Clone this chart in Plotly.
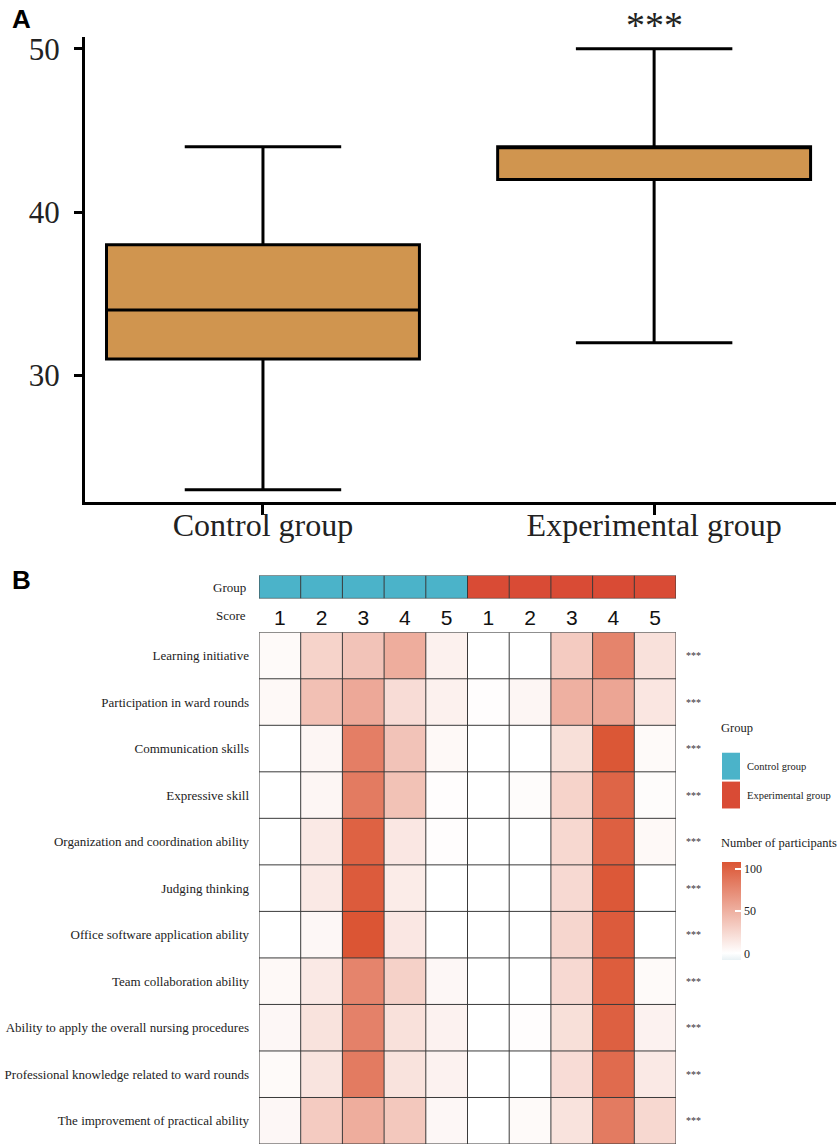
import plotly.graph_objects as go

# ---------------- Panel A data ----------------
groups = ["Control group", "Experimental group"]
box_low = [23, 32]
box_q1 = [31, 42]
box_median = [34, 44]
box_q3 = [38, 44]
box_high = [44, 50]
y_ticks = [30, 40, 50]
signif_A = "***"

# ---------------- Panel B data ----------------
items = [
    "Learning initiative",
    "Participation in ward rounds",
    "Communication skills",
    "Expressive skill",
    "Organization and coordination ability",
    "Judging thinking",
    "Office software application ability",
    "Team collaboration ability",
    "Ability to apply the overall nursing procedures",
    "Professional knowledge related to ward rounds",
    "The improvement of practical ability",
]
scores = ["1", "2", "3", "4", "5", "1", "2", "3", "4", "5"]
col_group = ["Control group"] * 5 + ["Experimental group"] * 5
control_counts = [
    [3, 28, 38, 52, 9],
    [4, 40, 55, 22, 9],
    [0, 6, 82, 38, 4],
    [0, 6, 84, 39, 1],
    [0, 14, 100, 15, 1],
    [0, 14, 104, 12, 0],
    [0, 5, 110, 15, 0],
    [4, 14, 78, 29, 5],
    [5, 18, 80, 19, 8],
    [3, 17, 84, 18, 8],
    [5, 33, 52, 35, 5],
]
experimental_counts = [
    [0, 0, 33, 78, 19],
    [1, 6, 50, 57, 16],
    [0, 0, 20, 107, 3],
    [0, 2, 28, 98, 2],
    [0, 0, 25, 101, 4],
    [0, 0, 24, 106, 0],
    [0, 0, 26, 104, 0],
    [0, 0, 24, 103, 3],
    [0, 1, 20, 101, 8],
    [0, 0, 22, 94, 14],
    [0, 3, 18, 84, 25],
]
row_signif = ["***"] * len(items)
cbar_ticks = [0, 50, 100]

# ---------------- styling ----------------
W, H = 839, 1147
BOX_FILL = "#D0954F"
BLUE = "#4BB3C9"
RED = "#D94B35"
SERIF = "Liberation Serif, Times New Roman, serif"
SANS = "Liberation Sans, Arial, sans-serif"
NARROW = "Liberation Sans Narrow, Liberation Sans, Arial, sans-serif"


def px_x(p):
    return p / W


def px_y(p):
    return 1 - p / H


fig = go.Figure()

# ---- Panel A: box plot from summary statistics ----
for i, g in enumerate(groups):
    fig.add_trace(go.Box(
        x=[i], q1=[box_q1[i]], median=[box_median[i]], q3=[box_q3[i]],
        lowerfence=[box_low[i]], upperfence=[box_high[i]],
        fillcolor=BOX_FILL, line=dict(color="black", width=3),
        width=0.8, whiskerwidth=0.5, boxpoints=False, showlegend=False,
        hoverinfo="skip", xaxis="x", yaxis="y", name=g,
    ))

# ---- Panel B: heatmap ----
z = [c + e for c, e in zip(control_counts, experimental_counts)]
zmin, zmax = -8, 108
fig.add_trace(go.Heatmap(
    z=z, x=list(range(len(scores))), y=list(range(len(items))),
    zmin=zmin, zmax=zmax,
    colorscale=[[0, "#e8f1f4"], [(0 - zmin) / (zmax - zmin), "#ffffff"], [1, "#db5534"]],
    xaxis="x2", yaxis="y2", hoverinfo="skip",
    colorbar=dict(
        x=px_x(722), xanchor="left", xpad=0, ypad=0,
        y=px_y(861), yanchor="top", lenmode="pixels", len=98,
        thickness=19, thicknessmode="pixels", outlinewidth=0,
        tickvals=cbar_ticks, ticks="inside", ticklen=6, tickwidth=2,
        tickcolor="white", tickfont=dict(family=SERIF, size=12, color="#222"),
    ),
))

# group annotation bar
group_names = list(dict.fromkeys(col_group))
fig.add_trace(go.Heatmap(
    z=[[group_names.index(g) for g in col_group]],
    x=list(range(len(scores))), y=[0],
    zmin=0, zmax=1,
    colorscale=[[0, BLUE], [0.5, BLUE], [0.5, RED], [1, RED]],
    showscale=False, xaxis="x3", yaxis="y3", hoverinfo="skip",
))

# grid lines on heatmap & group bar
nC, nR = len(scores), len(items)
for i in range(nC + 1):
    fig.add_shape(type="line", xref="x2", yref="y2", x0=i - 0.5, x1=i - 0.5,
                  y0=-0.5, y1=nR - 0.5, line=dict(color="#3a3a3a", width=1))
    fig.add_shape(type="line", xref="x3", yref="y3", x0=i - 0.5, x1=i - 0.5,
                  y0=-0.5, y1=0.5, line=dict(color="#3a3a3a", width=1))
for j in range(nR + 1):
    fig.add_shape(type="line", xref="x2", yref="y2", x0=-0.5, x1=nC - 0.5,
                  y0=j - 0.5, y1=j - 0.5, line=dict(color="#3a3a3a", width=1))
for j in range(2):
    fig.add_shape(type="line", xref="x3", yref="y3", x0=-0.5, x1=nC - 0.5,
                  y0=j - 0.5, y1=j - 0.5, line=dict(color="#3a3a3a", width=1))

# row significance stars
for j, s in enumerate(row_signif):
    fig.add_annotation(text=s, xref="paper", yref="y2", x=px_x(684), y=j,
                       xanchor="left", yanchor="middle", showarrow=False,
                       font=dict(family=SERIF, size=10, color="#333"))

# labels "Group" / "Score"
fig.add_annotation(text="Group", xref="paper", yref="paper", x=px_x(248), y=px_y(585),
                   xanchor="right", yanchor="middle", showarrow=False,
                   font=dict(family=SERIF, size=13, color="#222"))
fig.add_annotation(text="Score", xref="paper", yref="paper", x=px_x(248), y=px_y(613),
                   xanchor="right", yanchor="middle", showarrow=False,
                   font=dict(family=SERIF, size=13, color="#222"))

# legend (group)
fig.add_annotation(text="Group", xref="paper", yref="paper", x=px_x(719), y=px_y(726),
                   xanchor="left", yanchor="middle", showarrow=False,
                   font=dict(family=SERIF, size=12.5, color="#222"))
legend_rows = [(group_names[0], BLUE, 751, 778), (group_names[1], RED, 780, 807)]
for name, col, t, b in legend_rows:
    fig.add_shape(type="rect", xref="paper", yref="paper", x0=px_x(722), x1=px_x(740),
                  y0=px_y(b), y1=px_y(t), fillcolor=col, line=dict(width=0))
    fig.add_annotation(text=name, xref="paper", yref="paper", x=px_x(745), y=px_y((t + b) / 2),
                       xanchor="left", yanchor="middle", showarrow=False,
                       font=dict(family=SERIF, size=10.5, color="#222"))
fig.add_annotation(text="Number of participants", xref="paper", yref="paper",
                   x=px_x(719), y=px_y(842), xanchor="left", yanchor="middle",
                   showarrow=False, font=dict(family=SERIF, size=12.5, color="#222"))

# panel letters
fig.add_annotation(text="<b>A</b>", xref="paper", yref="paper", x=px_x(10), y=px_y(14),
                   xanchor="left", yanchor="middle", showarrow=False,
                   font=dict(family=SANS, size=26, color="black"))
fig.add_annotation(text="<b>B</b>", xref="paper", yref="paper", x=px_x(10), y=px_y(578),
                   xanchor="left", yanchor="middle", showarrow=False,
                   font=dict(family=SANS, size=26, color="black"))

# significance above experimental box
fig.add_annotation(text=signif_A, xref="x", yref="paper", x=1, y=px_y(20),
                   xanchor="center", yanchor="middle", showarrow=False,
                   font=dict(family=SERIF, size=38, color="#222"))

fig.update_layout(
    width=W, height=H, margin=dict(l=0, r=0, t=0, b=0),
    paper_bgcolor="white", plot_bgcolor="white", showlegend=False,
    xaxis=dict(
        domain=[px_x(85), px_x(836)], range=[-0.455, 1.465],
        tickvals=list(range(len(groups))), ticktext=groups,
        showline=True, linecolor="black", linewidth=3, ticks="outside",
        ticklen=10, tickwidth=3, tickcolor="black", showgrid=False, zeroline=False,
        tickfont=dict(family=SERIF, size=32, color="#222"), anchor="y",
        ticklabelstandoff=-17,
    ),
    yaxis=dict(
        domain=[px_y(499), px_y(32)], range=[22.26, 50.73],
        tickvals=y_ticks, showline=True, linecolor="black", linewidth=3,
        ticks="outside", ticklen=8, tickwidth=3, tickcolor="black",
        showgrid=False, zeroline=False, ticklabelstandoff=8,
        tickfont=dict(family=SERIF, size=31, color="#222"), anchor="x",
    ),
    xaxis2=dict(
        domain=[px_x(259), px_x(676)], range=[-0.5, nC - 0.5],
        tickvals=list(range(nC)), ticktext=scores, side="top", ticks="",
        showgrid=False, zeroline=False, showline=False, anchor="y2",
        tickfont=dict(family=NARROW, size=21, color="#111"), ticklabelstandoff=2,
    ),
    yaxis2=dict(
        domain=[px_y(1144), px_y(630)], range=[nR - 0.5, -0.5],
        tickvals=list(range(nR)), ticktext=items, ticks="", showgrid=False,
        zeroline=False, showline=False, anchor="x2", ticklabelstandoff=9,
        tickfont=dict(family=SERIF, size=13, color="#222"),
    ),
    xaxis3=dict(
        domain=[px_x(259), px_x(676)], range=[-0.5, nC - 0.5], matches="x2",
        showticklabels=False, ticks="", showgrid=False, zeroline=False, anchor="y3",
    ),
    yaxis3=dict(
        domain=[px_y(596), px_y(573)], range=[0.5, -0.5], showticklabels=False,
        ticks="", showgrid=False, zeroline=False, anchor="x3",
    ),
)

fig.write_html(
    "out.html",
    config={"displayModeBar": False},
    post_script="document.body.style.margin='0px';document.body.style.overflow='hidden';",
)
